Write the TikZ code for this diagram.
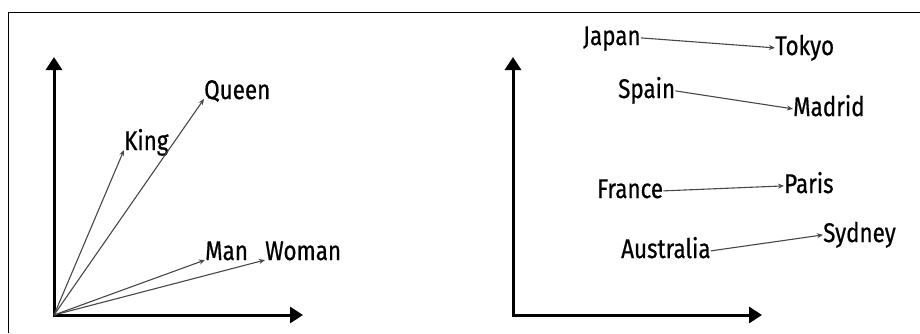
\documentclass[tikz,border=0pt]{standalone}
\usepackage{fontspec}
\setmainfont{Fira Sans}[FakeStretch=0.83,FakeBold=0.6]
\usetikzlibrary{arrows.meta}
\begin{document}
\fontsize{27}{31}\selectfont
\begin{tikzpicture}[x=1pt,y=-1pt,
  lbl/.style={inner sep=0pt,anchor=base west},
  vec/.style={draw=black!72,line width=1.1pt,-{Stealth[length=6pt,width=5pt]}},
  axis/.style={draw=black,line width=3pt,line join=miter,
    {Triangle[length=13pt,width=16pt]}-{Triangle[length=13pt,width=16pt]}},
  frame/.style={draw=black,line width=1pt}]
\useasboundingbox (0,0) rectangle (920,333);
% frame
\coordinate (fa) at (8,333);
\coordinate (fb) at (8,12);
\coordinate (fc) at (920,12);
\draw[frame] (fa) -- (fb) -- (fc);
% left axes
\coordinate (o1) at (54,315);
\coordinate (t1) at (54,57);
\coordinate (r1) at (303,315);
\draw[axis] (t1) -- (o1) -- (r1);
% right axes
\coordinate (o2) at (513,315);
\coordinate (t2) at (513,57);
\coordinate (r2) at (762,315);
\draw[axis] (t2) -- (o2) -- (r2);
% left labels
\node[lbl] (king) at (124,150) {King};
\node[lbl] (queen) at (204,99) {Queen};
\node[lbl] (man) at (205,260) {Man};
\node[lbl] (woman) at (265,260) {Woman};
\draw[vec] (o1) -- (king.base west);
\draw[vec] (o1) -- (queen.base west);
\draw[vec] (o1) -- (man.base west);
\draw[vec] (o1) -- (woman.base west);
% right labels
\node[lbl] (japan) at (583,45) {Japan};
\node[lbl] (tokyo) at (775,55) {Tokyo};
\node[lbl] (spain) at (618,98) {Spain};
\node[lbl] (madrid) at (793,116) {Madrid};
\node[lbl] (france) at (597,198) {France};
\node[lbl] (paris) at (784,193) {Paris};
\node[lbl] (australia) at (621,258) {Australia};
\node[lbl] (sydney) at (823,242) {Sydney};
\draw[vec] (japan.mid east) -- (tokyo.mid west);
\draw[vec] (spain.mid east) -- (madrid.mid west);
\draw[vec] (france.mid east) -- (paris.mid west);
\draw[vec] (australia.mid east) -- (sydney.mid west);
\end{tikzpicture}
\end{document}
